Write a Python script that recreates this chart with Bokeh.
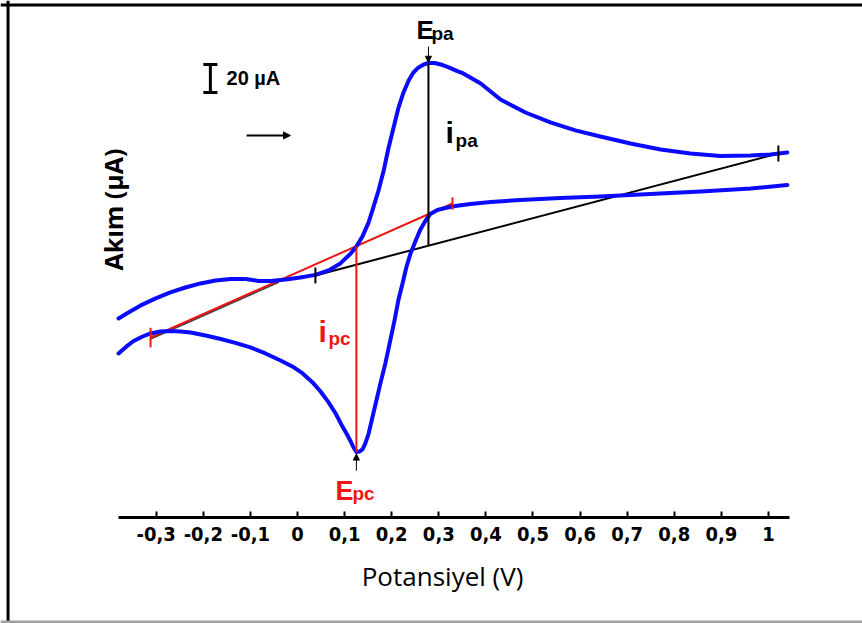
from bokeh.plotting import figure
from bokeh.models import Range1d, LinearAxis, FixedTicker, Span, Label, Arrow, NormalHead
from bokeh.embed import file_html
from bokeh.resources import INLINE

# ---- data (potential in V, current in µA) ----
potential_forward = [-0.380, -0.359, -0.333, -0.301, -0.270, -0.238, -0.206, -0.174, -0.142, -0.110,
                     -0.083, -0.057, -0.025, 0.006, 0.038, 0.066, 0.091, 0.113, 0.125, 0.138,
                     0.151, 0.161, 0.172, 0.183, 0.193, 0.204, 0.214, 0.225, 0.236, 0.246,
                     0.257, 0.268, 0.278, 0.291, 0.304, 0.321, 0.338, 0.352, 0.389, 0.431,
                     0.484, 0.537, 0.590, 0.643, 0.707, 0.771, 0.834, 0.898, 0.962, 1.004, 1.040]
current_forward = [-30.7, -26.4, -21.4, -16.4, -12.1, -8.6, -5.7, -3.6, -2.5, -2.5,
                   -3.9, -3.9, -2.9, -1.4, 0.4, 3.6, 8.6, 15.7, 20.7, 27.9,
                   37.9, 48.6, 60.7, 75.0, 90.7, 105.7, 119.3, 130.7, 139.3, 145.0,
                   148.6, 150.7, 151.8, 151.8, 150.7, 148.6, 146.1, 144.3, 137.1, 125.7,
                   116.4, 109.3, 103.6, 99.3, 94.3, 90.0, 87.1, 85.4, 85.7, 86.4, 87.9]

potential_reverse = [-0.380, -0.363, -0.348, -0.329, -0.312, -0.291, -0.270, -0.248, -0.227, -0.195,
                     -0.163, -0.132, -0.100, -0.068, -0.036, -0.011, 0.011, 0.032, 0.049, 0.066,
                     0.081, 0.093, 0.104, 0.113, 0.119, 0.125, 0.132, 0.138, 0.144, 0.151,
                     0.157, 0.166, 0.176, 0.187, 0.197, 0.206, 0.214, 0.223, 0.231, 0.240,
                     0.251, 0.261, 0.272, 0.282, 0.297, 0.314, 0.335, 0.367, 0.410, 0.473,
                     0.558, 0.643, 0.749, 0.856, 0.962, 1.040]
current_reverse = [-55.7, -50.7, -46.8, -43.6, -41.4, -40.0, -39.6, -40.0, -40.7, -42.9,
                   -45.4, -48.2, -51.4, -55.7, -60.7, -65.0, -70.0, -76.4, -82.9, -90.7,
                   -98.6, -106.4, -112.9, -118.6, -122.9, -126.1, -125.7, -124.3, -120.0, -112.9,
                   -104.3, -91.4, -77.1, -62.1, -46.4, -32.1, -17.9, -5.7, 5.7, 15.7,
                   25.0, 32.9, 39.3, 43.9, 46.8, 48.2, 49.6, 51.1, 52.5, 53.9,
                   55.4, 56.4, 58.2, 60.0, 62.1, 64.6]

tick_values = [-0.3, -0.2, -0.1, 0.0, 0.1, 0.2, 0.3, 0.4, 0.5, 0.6, 0.7, 0.8, 0.9, 1.0]
tick_labels = ["-0,3", "-0,2", "-0,1", "0", "0,1", "0,2", "0,3", "0,4", "0,5", "0,6",
               "0,7", "0,8", "0,9", "1"]

anodic_baseline_V = [0.038, 1.021]
anodic_baseline_I = [0.0, 87.1]
cathodic_baseline_V = [-0.312, 0.329]
cathodic_baseline_I = [-44.3, 51.4]

E_pa, i_pa_top, i_pa_base = 0.278, 151.8, 21.3
E_pc, i_pc_bottom, i_pc_base = 0.125, -126.1, 20.9
scale_bar_uA = 20

BLUE = "#0a0aff"
RED = "#f01414"
BOLD_FONT = "'Liberation Sans', Arial, sans-serif"
NARROW_FONT = "'Liberation Sans Narrow', 'DejaVu Sans Condensed', sans-serif"
TITLE_FONT = "'Open Sans', sans-serif"

p = figure(width=862, height=623,
           x_range=Range1d(-0.6306, 1.1996), y_range=Range1d(-248.6, 196.4),
           output_backend="svg", toolbar_location=None,
           x_axis_location=None, y_axis_location=None, min_border=0)
p.grid.visible = False
p.outline_line_color = None
p.background_fill_color = "white"
p.border_fill_color = "white"

# x axis drawn inside the frame
xaxis = LinearAxis(fixed_location=-172.9, bounds=(-0.381, 1.045),
                   ticker=FixedTicker(ticks=tick_values),
                   major_label_overrides={v: l for v, l in zip(tick_values, tick_labels)})
xaxis.axis_line_width = 3
xaxis.axis_line_color = "black"
xaxis.major_tick_in = 6
xaxis.major_tick_out = 0
xaxis.major_tick_line_width = 2
xaxis.minor_tick_line_color = None
xaxis.major_label_standoff = 9
xaxis.major_label_text_font = NARROW_FONT
xaxis.major_label_text_font_style = "bold"
xaxis.major_label_text_font_size = "20px"
xaxis.major_label_text_color = "black"
p.add_layout(xaxis, "below")

# frame lines of the picture
p.add_layout(Span(location=-0.6146, dimension="height", line_color="black", line_width=3))
p.add_layout(Span(location=193.2, dimension="width", line_color="black", line_width=3))
p.add_layout(Span(location=-247.5, dimension="width", line_color="#a0a0a0", line_width=3))

# baselines
p.line([cathodic_baseline_V[0], -0.04], [cathodic_baseline_I[0] - 1.0, -4.7], line_color="#444444", line_width=2)
p.line(anodic_baseline_V, anodic_baseline_I, line_color="black", line_width=2)
p.line(cathodic_baseline_V, cathodic_baseline_I, line_color=RED, line_width=2)

# voltammogram
p.line(potential_forward, current_forward, line_color=BLUE, line_width=4, line_join="round", line_cap="round")
p.line(potential_reverse, current_reverse, line_color=BLUE, line_width=4, line_join="round", line_cap="round")

# end marks of baselines
p.segment(x0=anodic_baseline_V, y0=[v - 5.7 for v in anodic_baseline_I],
          x1=anodic_baseline_V, y1=[v + 5.7 for v in anodic_baseline_I], line_color="black", line_width=2)
p.segment(x0=cathodic_baseline_V, y0=[cathodic_baseline_I[0] - 7, cathodic_baseline_I[1] - 4.3],
          x1=cathodic_baseline_V, y1=[cathodic_baseline_I[0] + 7, cathodic_baseline_I[1] + 4.3],
          line_color=RED, line_width=2)

# peak current lines
p.segment(x0=[E_pa], y0=[i_pa_base], x1=[E_pa], y1=[i_pa_top], line_color="black", line_width=2)
p.segment(x0=[E_pc], y0=[i_pc_base], x1=[E_pc], y1=[i_pc_bottom], line_color=RED, line_width=2)

# small arrows at peak potentials
p.add_layout(Arrow(end=NormalHead(size=6, fill_color="black", line_color="black"),
                   x_start=E_pa, y_start=163.5, x_end=E_pa, y_end=i_pa_top + 0.5,
                   line_color="black", line_width=1))
p.add_layout(Arrow(end=NormalHead(size=6, fill_color="black", line_color="black"),
                   x_start=E_pc, y_start=-139.5, x_end=E_pc, y_end=i_pc_bottom - 1.5,
                   line_color="black", line_width=1))

# scan direction arrow
p.add_layout(Arrow(end=NormalHead(size=7, fill_color="black", line_color="black"),
                   x_start=-0.108, y_start=100.0, x_end=-0.015, y_end=100.0,
                   line_color="black", line_width=2))

# scale bar
sb_x, sb_top = -0.185, 150.7
p.segment(x0=[sb_x], y0=[sb_top], x1=[sb_x], y1=[sb_top - scale_bar_uA], line_color="black", line_width=3)
p.segment(x0=[sb_x - 0.0149, sb_x - 0.0149], y0=[sb_top, sb_top - scale_bar_uA],
          x1=[sb_x + 0.0149, sb_x + 0.0149], y1=[sb_top, sb_top - scale_bar_uA],
          line_color="black", line_width=3)


def lab(x, y, t, size, color, font=BOLD_FONT, style="bold", align="left", baseline="alphabetic", angle=0.0):
    p.add_layout(Label(x=x, y=y, text=t, text_font=font, text_font_style=style,
                       text_font_size=size, text_color=color, text_baseline=baseline,
                       text_align=align, angle=angle))


lab(-0.1507, 141.0, f"{scale_bar_uA} µA", "20px", "black")

# peak annotations
lab(0.2527, 175.4, "E", "26px", "black")
lab(0.2845, 172.9, "pa", "19px", "black")
lab(0.3142, 102.1, "i", "30px", "black")
lab(0.3355, 96.4, "pa", "19px", "black")
lab(0.0446, -40.0, "i", "30px", RED)
lab(0.0658, -45.0, "pc", "19px", RED)
lab(0.0807, -153.6, "E", "27px", RED)
lab(0.1168, -155.7, "pc", "19px", RED)

# axis titles
lab(0.308, -214.6, "Potansiyel (V)", "26px", "black", font=TITLE_FONT, style="normal", align="center")
lab(-0.391, 47.1, "Akım (µA)", "25px", "black", font=TITLE_FONT, style="bold", align="center",
    baseline="middle", angle=1.5708)

open("out.html", "w").write(file_html(p, INLINE))
